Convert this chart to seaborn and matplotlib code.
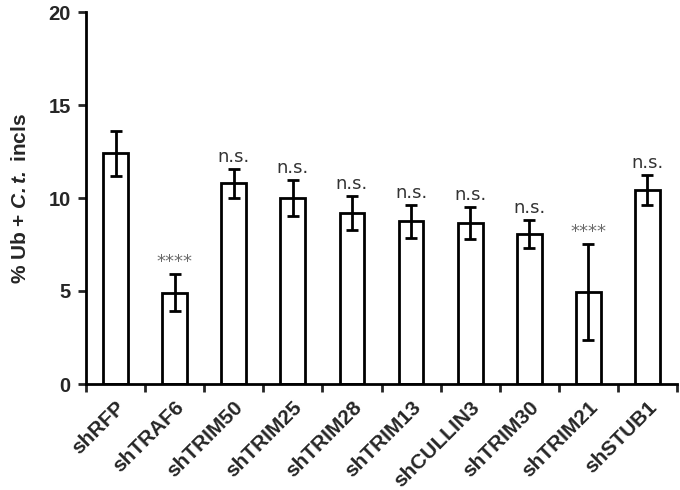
import matplotlib
matplotlib.use("Agg")
import matplotlib.pyplot as plt
import seaborn as sns
import numpy as np
import pandas as pd

categories = ["shRFP", "shTRAF6", "shTRIM50", "shTRIM25", "shTRIM28",
              "shTRIM13", "shCULLIN3", "shTRIM30", "shTRIM21", "shSTUB1"]
means = [12.4, 4.9, 10.8, 10.0, 9.2, 8.75, 8.65, 8.05, 4.95, 10.45]
errors = [1.2, 1.0, 0.78, 0.97, 0.92, 0.88, 0.88, 0.75, 2.6, 0.8]
annotations = ["", "****", "n.s.", "n.s.", "n.s.", "n.s.", "n.s.", "n.s.", "****", "n.s."]
yticks = [0, 5, 10, 15, 20]

sns.set_theme(style="ticks")
plt.rcParams['font.family'] = ['Liberation Sans', 'DejaVu Sans']
plt.rcParams['mathtext.fontset'] = 'custom'
plt.rcParams['mathtext.bfit'] = 'Liberation Sans:italic:bold'
plt.rcParams['mathtext.bf'] = 'Liberation Sans:bold'
plt.rcParams['mathtext.it'] = 'Liberation Sans:italic'
plt.rcParams['mathtext.rm'] = 'Liberation Sans'

df = pd.DataFrame({"cat": categories, "val": means})

fig = plt.figure(figsize=(6.8, 4.9), dpi=100)
ax = fig.add_axes([86/680, 1-384/490, (677-86)/680, (384-12)/490])

sns.barplot(data=df, x="cat", y="val", color="white", edgecolor="black",
            linewidth=2, width=0.42, ax=ax, errorbar=None, saturation=1)
x = np.arange(len(categories))
ax.errorbar(x, means, yerr=errors, fmt="none", ecolor="black",
            elinewidth=2, capsize=4, capthick=2)

for xi, m, e, a in zip(x, means, errors, annotations):
    if a:
        color = "#6a6a6a" if a.startswith("*") else "#333333"
        ax.annotate(a, (xi, m + e), xytext=(0, 5), textcoords="offset points",
                    ha="center", va="baseline", fontsize=13, color=color,
                    family="DejaVu Sans")

ax.set_xlim(-0.5, len(categories) - 0.5)
ax.set_ylim(0, 20)
ax.set_yticks(yticks)
ax.set_yticklabels([str(t) for t in yticks], fontsize=14.5, fontweight="bold")
ax.set_xticks(np.arange(-0.5, len(categories), 1.0))
ax.set_xticklabels([])
ax.set_xticks(x, minor=True)
ax.set_xticklabels(categories, minor=True, rotation=45, ha="right",
                   rotation_mode="anchor", fontsize=15, fontweight="bold")
ax.tick_params(axis="x", which="minor", length=0, pad=10)
ax.tick_params(axis="x", which="major", length=6, width=2, direction="out")
ax.tick_params(axis="y", length=6, width=2, direction="out", pad=5)
ax.set_xlabel("")
ax.set_ylabel(r"% Ub + $\mathbfit{C.t.}$ incls", fontsize=15, fontweight="bold", labelpad=13)

for s in ["top", "right"]:
    ax.spines[s].set_visible(False)
for s in ["left", "bottom"]:
    ax.spines[s].set_linewidth(2)
    ax.spines[s].set_color("black")

fig.savefig("out.png", dpi=100)
